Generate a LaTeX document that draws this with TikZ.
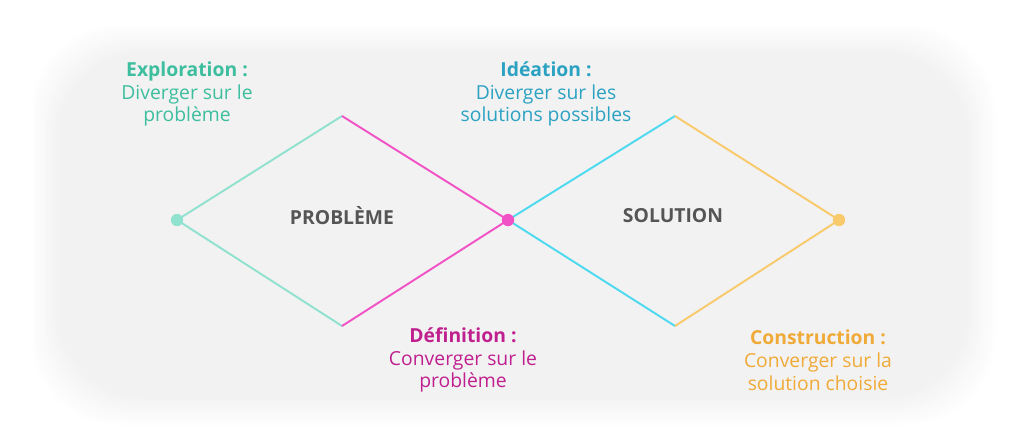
\documentclass[tikz,border=0pt]{standalone}
\usepackage{fontspec}
\setmainfont{Open Sans}
\usetikzlibrary{positioning}
\definecolor{bg}{HTML}{F2F2F2}
\definecolor{exploline}{HTML}{90E2CF}
\definecolor{explotext}{HTML}{3DBE9E}
\definecolor{defline}{HTML}{F153C6}
\definecolor{deftext}{HTML}{C0208F}
\definecolor{idealine}{HTML}{4DDAF0}
\definecolor{ideatext}{HTML}{2BA2C2}
\definecolor{consline}{HTML}{F9CA6C}
\definecolor{constext}{HTML}{F0AA38}
\definecolor{centertext}{HTML}{555555}

\begin{document}
\begin{tikzpicture}[x=0.02cm,y=-0.02cm,
  phase/.style={align=center,font=\fontsize{11}{13}\selectfont,inner sep=0pt},
  title/.style={font=\fontsize{11}{13}\selectfont\bfseries,text=centertext},
  edgeline/.style={line width=1.1pt},
  dot/.style={circle,fill,inner sep=0pt,minimum size=7pt}]

\useasboundingbox (0,0) rectangle (1024,447);
\fill[white] (0,0) rectangle (1024,447);
\foreach \i in {0,...,10}
  \fill[bg!\the\numexpr\i*10\relax!white,rounded corners=50] (28+3*\i,22+3*\i) rectangle (998-3*\i,428-3*\i);

\coordinate (l) at (177,220);
\coordinate (t1) at (342,116);
\coordinate (b1) at (342,326);
\coordinate (m) at (508,220);
\coordinate (t2) at (675,116);
\coordinate (b2) at (675,326);
\coordinate (r) at (839,220);

\draw[edgeline,exploline] (t1) -- (l) -- (b1);
\draw[edgeline,defline] (t1) -- (m) -- (b1);
\draw[edgeline,idealine] (t2) -- (m) -- (b2);
\draw[edgeline,consline] (t2) -- (r) -- (b2);

\node[dot,exploline] (ld) at (l) {};
\node[dot,defline] (md) at (m) {};
\node[dot,consline] (rd) at (r) {};

\node[title] (p) at (342,216) {PROBLÈME};
\node[title] (s) at (673,216) {SOLUTION};

\node[phase,text=explotext] (e) at (187,94) {\textbf{Exploration :}\\Diverger sur le\\problème};
\node[phase,text=ideatext] (i) at (546,94) {\textbf{Idéation :}\\Diverger sur les\\solutions possibles};
\node[phase,text=deftext] (d) at (463,360) {\textbf{Définition :}\\Converger sur le\\problème};
\node[phase,text=constext] (c) at (818,360) {\textbf{Construction :}\\Converger sur la\\solution choisie};

\end{tikzpicture}
\end{document}
